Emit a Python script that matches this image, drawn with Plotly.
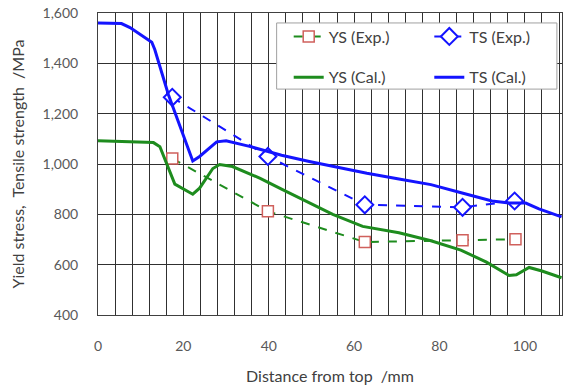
import plotly.graph_objects as go

# ---- data ----
ts_cal_x = [0, 5.5, 7.5, 12.6, 13.3, 16.5, 22.2, 23.8, 27.8, 30, 35.5, 43, 49.5, 55, 63, 70.5, 78, 85.3, 92.3, 96.3, 100.2, 103.3, 108.6]
ts_cal_y = [1560, 1558, 1542, 1484, 1455, 1275, 1012, 1030, 1088, 1092, 1070, 1035, 1010, 990, 963, 940, 918, 885, 853, 845, 845, 822, 790]

ys_cal_x = [0, 13, 14.5, 16.8, 18, 22.2, 23.8, 26.9, 28.5, 31.5, 38, 43, 48, 55, 62, 70.5, 78, 85, 91, 96.3, 98, 101, 104, 108.6]
ys_cal_y = [1092, 1085, 1069, 970, 920, 880, 904, 982, 998, 990, 943, 900, 858, 800, 752, 727, 695, 658, 610, 557, 560, 589, 575, 548]

ys_exp_x = [17.4, 39.8, 62.5, 85.4, 97.8]
ys_exp_y = [1022, 812, 690, 697, 701]

ts_exp_x = [17.4, 39.8, 62.5, 85.4, 97.6]
ts_exp_y = [1265, 1030, 838, 828, 853]

x_tickvals = list(range(0, 109, 4))
x_ticktext = [str(v) if v % 20 == 0 else "" for v in x_tickvals]
y_tickvals = [400, 600, 800, 1000, 1200, 1400, 1600]
y_ticktext = ["400", "600", "800", "1,000", "1,200", "1,400", "1,600"]

BLUE = "#1414ff"
GREEN = "#1e8c1e"
RED = "#d0605c"
FONT = "Lato"

fig = go.Figure()
fig.add_trace(go.Scatter(
    x=ys_exp_x, y=ys_exp_y, name="YS (Exp.)", mode="lines+markers", legend="legend",
    line=dict(color=GREEN, width=2, dash="dash"),
    marker=dict(symbol="square", size=11, color="white", line=dict(color=RED, width=1.5)),
))
fig.add_trace(go.Scatter(
    x=ts_exp_x, y=ts_exp_y, name="TS (Exp.)", mode="lines+markers", legend="legend2",
    line=dict(color=BLUE, width=2, dash="dash"),
    marker=dict(symbol="diamond", size=13, color="white", line=dict(color=BLUE, width=2)),
))
fig.add_trace(go.Scatter(
    x=ys_cal_x, y=ys_cal_y, name="YS (Cal.)", mode="lines", legend="legend3",
    line=dict(color=GREEN, width=3),
))
fig.add_trace(go.Scatter(
    x=ts_cal_x, y=ts_cal_y, name="TS (Cal.)", mode="lines", legend="legend4",
    line=dict(color=BLUE, width=3),
))

axis_common = dict(
    showline=True, linecolor="#404040", linewidth=1, mirror=True,
    showgrid=True, gridcolor="#303030", gridwidth=1,
    zeroline=False, ticks="", ticklabeloverflow="allow",
    tickfont=dict(family=FONT, size=14, color="#595959"),
)

def leg(x, y):
    return dict(
        orientation="v", x=x, y=y, xanchor="left", yanchor="middle",
        bgcolor="rgba(0,0,0,0)", borderwidth=0,
        font=dict(family=FONT, size=16, color="#404040"),
    )

# legend frame (white box with grey border)
fig.add_shape(type="rect", xref="paper", yref="paper",
              x0=0.385, x1=0.989, y0=0.748, y1=0.967,
              fillcolor="white", line=dict(color="#a0a0a0", width=1), layer="above")

fig.update_layout(
    width=567, height=387,
    margin=dict(l=98, r=4, t=10, b=72),
    plot_bgcolor="white", paper_bgcolor="white",
    font=dict(family=FONT, color="#404040"),
    xaxis=dict(
        range=[0, 108.7], tickmode="array", tickvals=x_tickvals, ticktext=x_ticktext,
        ticklabelstandoff=18,
        title=dict(text="Distance from top  /mm", font=dict(family=FONT, size=16, color="#404040"), standoff=18),
        **axis_common,
    ),
    yaxis=dict(
        range=[400, 1600], tickmode="array", tickvals=y_tickvals, ticktext=y_ticktext,
        ticklabelstandoff=16,
        title=dict(text="Yield stress,  Tensile strength  /MPa", font=dict(family=FONT, size=16, color="#404040"), standoff=13),
        **axis_common,
    ),
    legend=leg(0.411, 0.922),
    legend2=leg(0.714, 0.922),
    legend3=leg(0.411, 0.787),
    legend4=leg(0.714, 0.787),
    showlegend=True,
)

fig.write_html("out.html", post_script="document.body.style.margin='0';",
               config={"displayModeBar": False})
